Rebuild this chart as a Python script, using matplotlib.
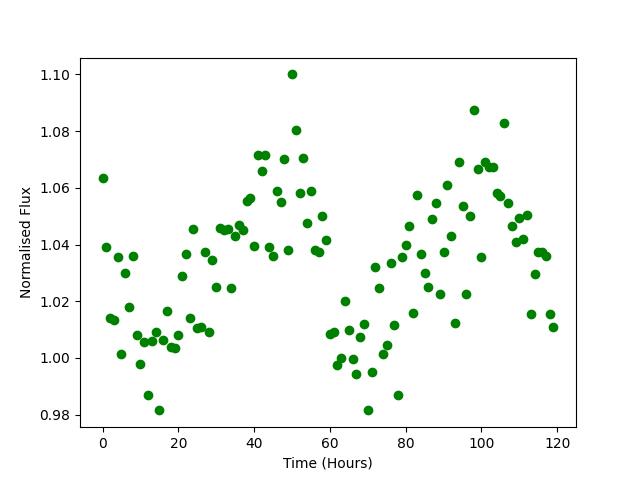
import numpy as np
import matplotlib
matplotlib.use('Agg')
import matplotlib.pyplot as plt

time_hours = list(range(120))
flux = [
    1.0635, 1.039, 1.014, 1.0135, 1.0355, 1.0015, 1.030, 1.018, 1.036, 1.008,
    0.998, 1.0055, 0.987, 1.006, 1.009, 0.9815, 1.0065, 1.0165, 1.004, 1.0035,
    1.008, 1.029, 1.0365, 1.014, 1.0455, 1.0105, 1.011, 1.0375, 1.009, 1.0345,
    1.025, 1.046, 1.045, 1.0455, 1.0245, 1.043, 1.047, 1.045, 1.0555, 1.0565,
    1.0395, 1.0715, 1.066, 1.0715, 1.039, 1.036, 1.059, 1.055, 1.070, 1.038,
    1.100, 1.0805, 1.058, 1.0705, 1.0475, 1.059, 1.038, 1.0375, 1.050, 1.0415,
    1.0085, 1.009, 0.9975, 1.000, 1.020, 1.010, 0.9995, 0.9945, 1.0075, 1.012,
    0.9815, 0.995, 1.032, 1.0245, 1.0015, 1.0045, 1.0335, 1.0115, 0.987, 1.0355,
    1.040, 1.0465, 1.016, 1.0575, 1.0365, 1.030, 1.025, 1.049, 1.0545, 1.0225,
    1.0375, 1.061, 1.043, 1.0125, 1.069, 1.0535, 1.0225, 1.050, 1.0875, 1.0665,
    1.0355, 1.069, 1.0675, 1.0675, 1.058, 1.057, 1.083, 1.0545, 1.0465, 1.041,
    1.0495, 1.042, 1.0505, 1.0155, 1.0295, 1.0375, 1.0375, 1.036, 1.0155, 1.011,
]

plt.figure(figsize=(6.4, 4.8), dpi=100)
plt.plot(time_hours, flux, 'go')
plt.xlabel('Time (Hours)')
plt.ylabel('Normalised Flux')
plt.savefig('out.png', dpi=100)
